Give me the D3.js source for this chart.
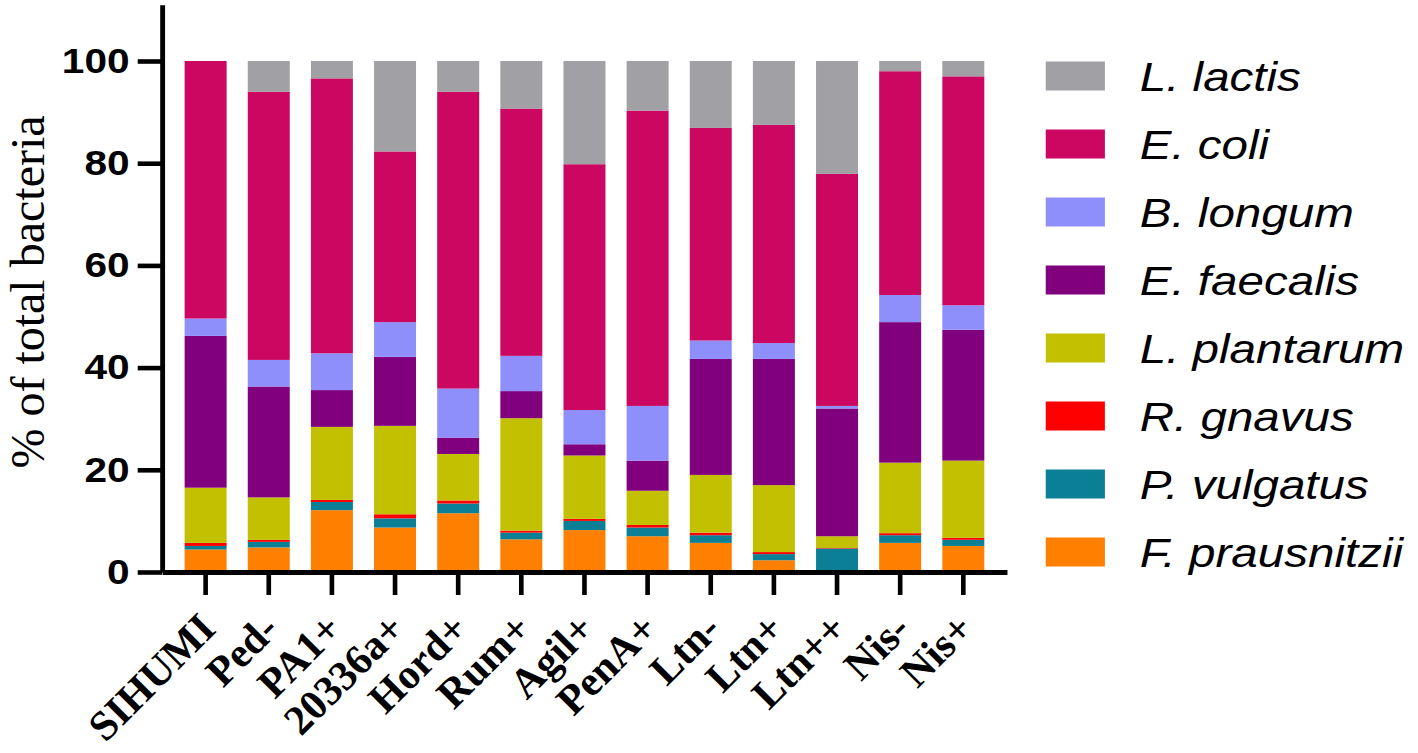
<!DOCTYPE html>
<html>
<head>
<meta charset="utf-8">
<script src="https://cdn.jsdelivr.net/npm/d3@7"></script>
<style>
  body { margin: 0; background: #fff; }
  svg { display: block; }
  .axis path, .axis line { stroke: #000; }
  .serif { font-family: 'Liberation Serif', 'Times New Roman', Times, serif; }
  .sans { font-family: 'Liberation Sans', Arial, Helvetica, sans-serif; }
</style>
</head>
<body>
<svg id="chart" width="1418" height="753"></svg>
<script>
// Groups on the x axis
const categories = ['SIHUMI', 'Ped-', 'PA1+', '20336a+', 'Hord+', 'Rum+', 'Agil+', 'PenA+', 'Ltn-', 'Ltn+', 'Ltn++', 'Nis-', 'Nis+'];

// % of total bacteria per species (bottom of the stack first)
const fPrausnitzii = [4.4, 4.8, 12.1, 8.7, 11.5, 6.4, 8.2, 7.0, 5.7, 2.3, 0.2, 5.7, 5.1];
const pVulgatus    = [0.7, 1.1, 1.6, 1.8, 1.9, 1.3, 1.8, 1.7, 1.5, 1.2, 4.4, 1.5, 1.2];
const rGnavus      = [0.6, 0.4, 0.4, 0.8, 0.6, 0.4, 0.4, 0.5, 0.5, 0.4, 0.1, 0.4, 0.4];
const lPlantarum   = [10.8, 8.3, 14.3, 17.3, 9.1, 22.0, 12.4, 6.7, 11.3, 13.1, 2.3, 13.8, 15.1];
const eFaecalis    = [29.7, 21.7, 7.2, 13.5, 3.2, 5.3, 2.2, 5.9, 22.7, 24.7, 25.0, 27.5, 25.6];
const bLongum      = [3.4, 5.2, 7.2, 6.8, 9.6, 6.9, 6.7, 10.7, 3.6, 3.1, 0.5, 5.3, 4.8];
const eColi        = [50.4, 52.5, 53.8, 33.4, 58.1, 48.4, 48.1, 57.8, 41.6, 42.7, 45.4, 43.8, 44.8];
const lLactis      = [0, 6.0, 3.4, 17.7, 6.0, 9.3, 20.2, 9.7, 13.1, 12.5, 22.1, 2.0, 3.0];

const species = ['F. prausnitzii', 'P. vulgatus', 'R. gnavus', 'L. plantarum', 'E. faecalis', 'B. longum', 'E. coli', 'L. lactis'];
const seriesValues = [fPrausnitzii, pVulgatus, rGnavus, lPlantarum, eFaecalis, bLongum, eColi, lLactis];
const colors = ['#ff7f00', '#0b7f95', '#ff0000', '#c2c000', '#80007e', '#8f8ffc', '#cc0762', '#a1a1a5'];
const yTicks = [0, 20, 40, 60, 80, 100];

// the original figure is stretched horizontally; plot area drawn in unstretched units
const sx = 1.16;

const table = categories.map((c, i) => {
  const row = {group: c};
  species.forEach((s, k) => row[s] = seriesValues[k][i]);
  return row;
});
const stacked = d3.stack().keys(species)(table);

const svg = d3.select('#chart');
const g = svg.append('g').attr('transform', `scale(${sx},1)`);

const xScale = d3.scaleBand()
    .domain(categories)
    .range([139.7, 868])
    .paddingInner(0.335)
    .paddingOuter(0.3575);

const yScale = d3.scaleLinear()
    .domain([0, 111])
    .range([572, 572 - 111 * 5.11]);

const color = d3.scaleOrdinal().domain(species).range(colors);

// Bars
g.append('g').selectAll('g')
    .data(stacked)
  .join('g')
    .attr('fill', d => color(d.key))
  .selectAll('rect')
    .data(d => d)
  .join('rect')
    .attr('x', d => xScale(d.data.group))
    .attr('width', xScale.bandwidth())
    .attr('y', d => yScale(d[1]))
    .attr('height', d => yScale(d[0]) - yScale(d[1]));

// Y axis
const yAxis = d3.axisLeft(yScale)
    .tickValues(yTicks)
    .tickSize(21)
    .tickSizeOuter(0)
    .tickPadding(7);

const yAxisG = g.append('g')
    .attr('class', 'axis')
    .attr('transform', 'translate(139.7,0)')
    .call(yAxis);
yAxisG.select('.domain').attr('stroke-width', 4.2);
yAxisG.selectAll('.tick line').attr('stroke-width', 4.6);
yAxisG.selectAll('.tick text')
    .attr('class', 'sans')
    .attr('fill', '#000')
    .style('font-weight', 'bold')
    .style('font-size', '35px');

// X axis
const xAxis = d3.axisBottom(xScale)
    .tickSize(23)
    .tickSizeOuter(0)
    .tickFormat('');

const xAxisG = g.append('g')
    .attr('class', 'axis')
    .attr('transform', 'translate(0,572)')
    .call(xAxis);
xAxisG.select('.domain').attr('stroke-width', 5);
xAxisG.selectAll('.tick line').attr('stroke-width', 4);

// rotated group labels (not stretched)
const centerPx = d => (xScale(d) + xScale.bandwidth() / 2) * sx;
svg.append('g').selectAll('text')
    .data(categories)
  .join('text')
    .attr('class', 'serif')
    .attr('transform', d => `translate(${centerPx(d) + 12},631) rotate(-45)`)
    .attr('text-anchor', 'end')
    .style('font-weight', 'bold')
    .style('font-size', '42px')
    .text(d => d);

// Y title
svg.append('text')
    .attr('class', 'serif')
    .attr('transform', 'translate(27,292) rotate(-90)')
    .attr('text-anchor', 'middle')
    .attr('dy', '0.35em')
    .style('font-size', '48px')
    .text('% of total bacteria');

// Legend, top of the stack first
const legendItems = species.slice().reverse();
const legend = g.append('g').selectAll('g')
    .data(legendItems)
  .join('g')
    .attr('transform', (d, i) => `translate(901.5,${76 + i * 68})`);

legend.append('rect')
    .attr('x', 0)
    .attr('y', -14.5)
    .attr('width', 51)
    .attr('height', 29)
    .attr('fill', d => color(d));

legend.append('text')
    .attr('class', 'sans')
    .attr('x', 81)
    .attr('dy', '0.36em')
    .style('font-style', 'italic')
    .style('font-size', '41px')
    .text(d => d);
</script>
</body>
</html>
